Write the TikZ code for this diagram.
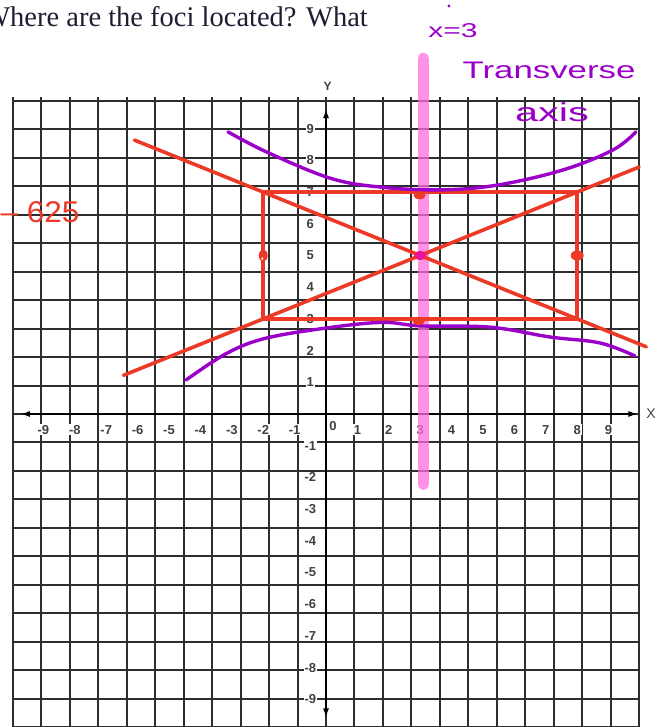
\documentclass[tikz,border=0pt]{standalone}
\usepackage{fontspec}
\setmainfont{Liberation Serif}
\setsansfont{Liberation Sans}
\usetikzlibrary{arrows.meta}
\definecolor{penred}{RGB}{236,58,38}
\definecolor{penpurple}{RGB}{155,0,200}
\definecolor{penpink}{RGB}{255,110,220}
\definecolor{gridgray}{RGB}{45,45,45}
\definecolor{centermag}{RGB}{235,20,150}
\definecolor{titleink}{RGB}{30,30,50}
\tikzset{
  gridline/.style={gridgray, line width=2pt},
  axisline/.style={black, line width=2.6pt},
  axtip/.style={-{Latex[length=10pt,width=6pt]}},
  ticklab/.style={font=\sffamily\bfseries\fontsize{13}{13}\selectfont, fill=white, inner sep=1pt, text=black!75},
  axlab/.style={font=\sffamily\bfseries\fontsize{12}{12}\selectfont, inner sep=0pt, text=black!75},
  redpen/.style={penred, line width=3.6pt, line cap=round, line join=round},
  purplepen/.style={penpurple, line width=3.4pt, line cap=round, line join=round},
  pinkpen/.style={penpink, opacity=0.75, line width=11pt, line cap=round},
  handtext/.style={font=\sffamily, inner sep=0pt},
}
\begin{document}
\begin{tikzpicture}[x=1pt,y=-1pt]
\useasboundingbox[fill=white] (0,0) rectangle (658,727);
\node[anchor=base east, inner sep=0pt, font=\fontsize{28.5}{28.5}\selectfont, text=titleink] (title) at (368,27) {Where are the foci located? What};

\begin{scope}[shift={(326,414)}, x=31.4pt, y=31.7pt]
  % grid and axes
  \draw[gridline] (-10,-9.95) grid (10,10);
  \coordinate (xl) at (-9.75,0);
  \coordinate (xr) at (9.95,0);
  \coordinate (yb) at (0,-9.6);
  \coordinate (yt) at (0,9.65);
  \coordinate (origin) at (0,0);
  \draw[axisline, axtip] (origin) -- (xl);
  \draw[axisline, axtip] (origin) -- (xr);
  \draw[axisline, axtip] (origin) -- (yb);
  \draw[axisline, axtip] (origin) -- (yt);
  \node[axlab] (ylab) at (0.05,10.35) {Y};
  \node[axlab, font=\sffamily\fontsize{14}{14}\selectfont] (xlab) at (10.35,0) {X};
  \foreach \i in {1,...,9} {
    \node[ticklab] (xp\i) at (\i,-0.5) {\i};
    \node[ticklab] (xm\i) at (-\i,-0.5) {-\i};
    \node[ticklab] (yp\i) at (-0.5,\i) {\i};
    \node[ticklab] (ym\i) at (-0.5,-\i) {-\i};
  }
  \node[ticklab, fill=none] (zero) at (0.22,-0.37) {0};

  % transverse axis highlight
  \coordinate (pinktop) at (3.1,11.22);
  \coordinate (pinkbot) at (3.1,-2.22);
  \draw[pinkpen] (pinktop) -- (pinkbot);

  % box and asymptotes
  \coordinate (bl) at (-2,3);
  \coordinate (tr) at (8,7);
  \coordinate (ctr) at (3,5);
  \draw[redpen] (bl) rectangle (tr);
  \coordinate (a1s) at (-6.1,8.64);
  \coordinate (a1e) at (10.2,2.12);
  \coordinate (a2s) at (-6.45,1.22);
  \coordinate (a2e) at (9.97,7.79);
  \draw[redpen] (a1s) -- (a1e);
  \draw[redpen] (a2s) -- (a2e);

  % hyperbola branches
  \draw[purplepen] plot[smooth, tension=0.6] coordinates {(-3.12,8.90) (-1.88,8.26) (0.13,7.44) (1.72,7.16) (3.63,7.07) (5.45,7.22) (7.55,7.70) (9.14,8.33) (9.87,8.90)};
  \draw[purplepen] plot[smooth, tension=0.6] coordinates {(-4.46,1.07) (-3.15,1.92) (-1.88,2.40) (0.22,2.74) (1.82,2.89) (3.0,2.78) (5.22,2.74) (7.13,2.43) (8.73,2.24) (9.84,1.83)};

  % points
  \fill[penred] (2.98,6.9) ellipse [x radius=6pt, y radius=4pt];
  \fill[penred] (2.95,2.92) ellipse [x radius=6pt, y radius=3.6pt];
  \fill[penred] (-2,5) ellipse [x radius=4.5pt, y radius=6pt];
  \fill[white] (-2.03,4.9) circle [radius=1.2pt];
  \fill[penred] (8,5) ellipse [x radius=6.5pt, y radius=5pt];
  \fill[centermag] (ctr) ellipse [x radius=6pt, y radius=4.5pt];
\end{scope}

% handwritten notes
\node[handtext, text=penpurple, font=\sffamily\fontsize{20}{20}\selectfont] (xeq) at (453,31) {\scalebox{1.5}[1]{x=3}};
\fill[penpurple] (449,6) circle (1.6);
\node[handtext, text=penpurple, font=\sffamily\fontsize{24}{24}\selectfont] (trans) at (549,70) {\scalebox{1.45}[1]{Transverse}};
\node[handtext, text=penpurple, font=\sffamily\fontsize{26}{26}\selectfont] (axisw) at (552,112) {\scalebox{1.6}[1]{axis}};
\node[handtext, text=penred, font=\sffamily\fontsize{30}{30}\selectfont] (num) at (40,212) {\scalebox{1.05}[1]{– 625}};
\end{tikzpicture}
\end{document}
